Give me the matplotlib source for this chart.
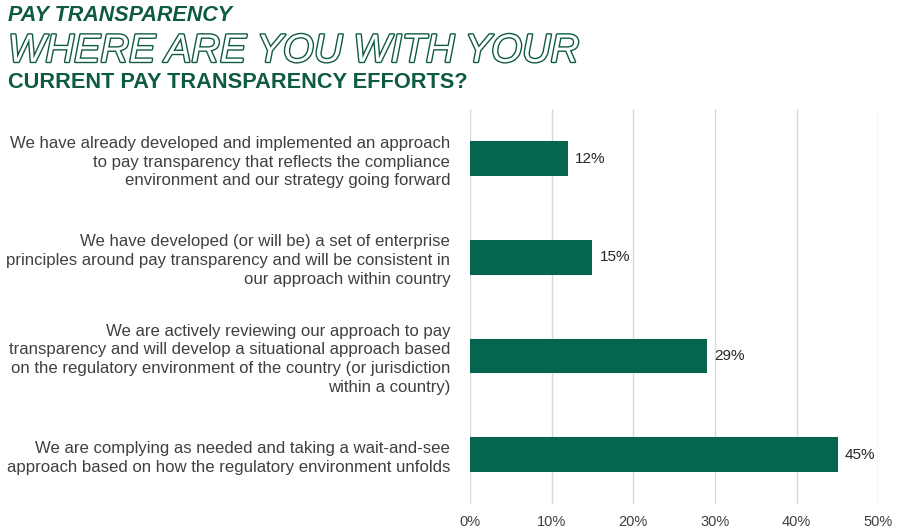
import matplotlib
matplotlib.use("Agg")
import matplotlib.pyplot as plt
import matplotlib.patheffects as pe

# data
categories = [
    "We have already developed and implemented an approach\nto pay transparency that reflects the compliance\nenvironment and our strategy going forward",
    "We have developed (or will be) a set of enterprise\nprinciples around pay transparency and will be consistent in\nour approach within country",
    "We are actively reviewing our approach to pay\ntransparency and will develop a situational approach based\non the regulatory environment of the country (or jurisdiction\nwithin a country)",
    "We are complying as needed and taking a wait-and-see\napproach based on how the regulatory environment unfolds",
]
values = [12, 15, 29, 45]
value_labels = ["12%", "15%", "29%", "45%"]
ticks = [0, 10, 20, 30, 40, 50]
tick_labels = ["0%", "10%", "20%", "30%", "40%", "50%"]

green = "#05664f"
title_green = "#0e5a44"
plt.rcParams['font.family'] = ['Liberation Sans', 'DejaVu Sans']

fig = plt.figure(figsize=(9, 5.3), dpi=100)
ax = fig.add_axes([0.522, 0.049, 0.454, 0.745])

ypos = list(range(len(categories)))
ax.barh(ypos, values, height=0.35, color=green)
ax.set_ylim(len(categories) - 0.5, -0.5)
ax.set_xlim(0, 50)
ax.set_xticks(ticks)
ax.set_xticklabels(tick_labels, fontsize=10.5, color="#404040")
ax.set_yticks(ypos)
ax.set_yticklabels(categories, fontsize=12.1, color="#404040", linespacing=1.33)
ax.tick_params(axis="y", length=0, pad=14)
ax.tick_params(axis="x", length=0, pad=8)
ax.grid(axis="x", color="#d9d9d9", linewidth=1)
ax.set_axisbelow(True)
for s in ax.spines.values():
    s.set_visible(False)

for y, v, lab in zip(ypos, values, value_labels):
    ax.text(v + 0.9, y, lab, va="center", ha="left", fontsize=11, color="#262626")

# titles
fig.text(0.009, 0.99, "PAY TRANSPARENCY", fontsize=15.5, fontweight="bold",
         style="italic", color=title_green, va="top")
t = fig.text(0.009, 0.94, "WHERE ARE YOU WITH YOUR", fontsize=28.5,
             style="italic", color="white", va="top")
t.set_path_effects([pe.Stroke(linewidth=2.0, foreground=title_green), pe.Normal()])
fig.text(0.009, 0.865, "CURRENT PAY TRANSPARENCY EFFORTS?", fontsize=15.7,
         fontweight="bold", color=title_green, va="top")

fig.savefig("out.png", dpi=100, facecolor="white")
